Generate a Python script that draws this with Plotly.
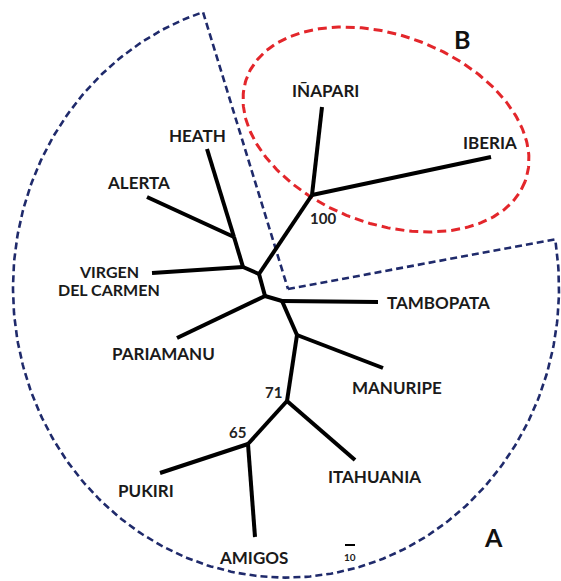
import numpy as np
import plotly.graph_objects as go

# ---- tree nodes (image-space coordinates) ----
node_names = ["n100", "INAPARI", "IBERIA", "nC", "nV", "nHA", "HEATH", "ALERTA",
              "VIRGEN", "nP", "PARIAMANU", "nT", "TAMBOPATA", "nM", "MANURIPE",
              "n71", "ITAHUANIA", "n65", "PUKIRI", "AMIGOS"]
node_x = [312, 322, 491, 259, 243, 234, 207, 147, 152, 265, 177, 282, 378, 297, 383,
          287, 355, 248, 160, 255]
node_y = [195, 107, 157, 274, 267, 237, 149, 197, 273, 296, 338, 301, 302, 335, 368,
          401, 460, 444, 473, 537]

edge_from = ["n100", "n100", "nC", "nC", "nV", "nV", "nHA", "nHA", "nC", "nP", "nP",
             "nT", "nT", "nM", "nM", "n71", "n71", "n65", "n65"]
edge_to = ["INAPARI", "IBERIA", "n100", "nV", "VIRGEN", "nHA", "HEATH", "ALERTA", "nP",
           "PARIAMANU", "nT", "TAMBOPATA", "nM", "MANURIPE", "n71", "ITAHUANIA",
           "n65", "PUKIRI", "AMIGOS"]

# ---- labels ----
tip_labels = ["IÑAPARI", "IBERIA", "HEATH", "ALERTA", "VIRGEN", "DEL CARMEN",
              "TAMBOPATA", "PARIAMANU", "MANURIPE", "ITAHUANIA", "PUKIRI", "AMIGOS"]
tip_label_x = [325, 490, 197, 138, 109, 109, 438, 163, 397, 374, 146, 253]
tip_label_y = [90, 142, 135, 182, 271, 289, 302, 353, 387, 476, 490, 557]
tip_label_size = [17, 17, 17, 17, 16, 16, 17, 17, 17, 17, 17, 17]

support_labels = ["100", "71", "65"]
support_x = [323, 273, 237]
support_y = [218, 392, 432]

group_labels = ["A", "B"]
group_x = [493, 462]
group_y = [537, 39]

scale_label = "10"
scale_x = [345, 355]
scale_y = [545, 545]

# ---- group outlines ----
# clade B: tilted ellipse (centre, semi-axes, tilt in degrees)
b_center = (386, 129.5)
b_axes = (148.5, 94.3)
b_tilt = 20.5
# clade A: sector (corner point, arc centre, arc radii, arc end points)
a_corner = (288, 289)
a_arc_center = (286, 288)
a_arc_radii = (273, 289.6)
a_arc_end_pts = [(557, 239), (203, 12)]

W, H = 561, 581
idx = {n: i for i, n in enumerate(node_names)}

fig = go.Figure()

# clade A outline
cx, cy = a_arc_center
rx, ry = a_arc_radii
t0 = np.arctan2((a_arc_end_pts[0][1] - cy) / ry, (a_arc_end_pts[0][0] - cx) / rx)
t1 = np.arctan2((a_arc_end_pts[1][1] - cy) / ry, (a_arc_end_pts[1][0] - cx) / rx)
if t1 < t0:
    t1 += 2 * np.pi
t = np.linspace(t0, t1, 300)
ax_ = list(cx + rx * np.cos(t))
ay_ = list(cy + ry * np.sin(t))
sx = [a_corner[0]] + ax_ + [a_corner[0]]
sy = [a_corner[1]] + ay_ + [a_corner[1]]
fig.add_trace(go.Scatter(x=sx, y=sy, mode="lines",
                         line=dict(color="#1f2a6b", width=2.6, dash="7px,4px"),
                         hoverinfo="skip"))

# clade B outline
th = np.radians(b_tilt)
tt = np.linspace(0, 2 * np.pi, 300)
ex = b_center[0] + b_axes[0] * np.cos(tt) * np.cos(th) - b_axes[1] * np.sin(tt) * np.sin(th)
ey = b_center[1] + b_axes[0] * np.cos(tt) * np.sin(th) + b_axes[1] * np.sin(tt) * np.cos(th)
fig.add_trace(go.Scatter(x=ex, y=ey, mode="lines",
                         line=dict(color="#e3262b", width=3, dash="9px,5px"),
                         hoverinfo="skip"))

# tree branches
bx, by = [], []
for a, b in zip(edge_from, edge_to):
    bx += [node_x[idx[a]], node_x[idx[b]], None]
    by += [node_y[idx[a]], node_y[idx[b]], None]
fig.add_trace(go.Scatter(x=bx, y=by, mode="lines",
                         line=dict(color="black", width=4), hoverinfo="skip"))

# scale bar
fig.add_trace(go.Scatter(x=scale_x, y=scale_y, mode="lines",
                         line=dict(color="black", width=2), hoverinfo="skip"))

FONT = "Lato"
for s, x, y, fs in zip(tip_labels, tip_label_x, tip_label_y, tip_label_size):
    fig.add_annotation(x=x, y=y, text="<b>" + s + "</b>", showarrow=False,
                       font=dict(family=FONT, size=fs, color="#1a1a1a"))
for s, x, y in zip(support_labels, support_x, support_y):
    fig.add_annotation(x=x, y=y, text="<b>" + s + "</b>", showarrow=False,
                       font=dict(family=FONT, size=15, color="#222222"))
for s, x, y in zip(group_labels, group_x, group_y):
    fig.add_annotation(x=x, y=y, text="<b>" + s + "</b>", showarrow=False,
                       font=dict(family=FONT, size=25, color="#111111"))
fig.add_annotation(x=np.mean(scale_x), y=scale_y[0] + 12, text="<b>" + scale_label + "</b>",
                   showarrow=False, font=dict(family=FONT, size=10, color="#222222"))

fig.update_layout(width=W, height=H, margin=dict(l=0, r=0, t=0, b=0),
                  paper_bgcolor="white", plot_bgcolor="white", showlegend=False,
                  xaxis=dict(range=[0, W], visible=False, fixedrange=True),
                  yaxis=dict(range=[H, 0], visible=False, fixedrange=True))
fig.write_html("out.html", config={"displayModeBar": False},
               post_script="document.body.style.margin='0';document.body.style.overflow='hidden';")
